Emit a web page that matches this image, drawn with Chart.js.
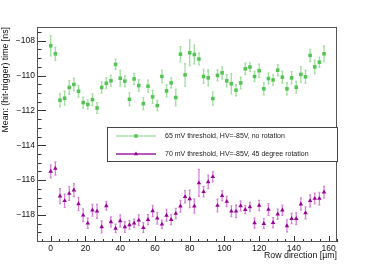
<!DOCTYPE html>
<html>
<head>
<meta charset="utf-8">
<script src="https://cdn.jsdelivr.net/npm/chart.js@4.4.1/dist/chart.umd.min.js"></script>
<style>
  html, body { margin: 0; padding: 0; background: #fff; }
</style>
</head>
<body>
<canvas id="chart" width="374" height="269"></canvas>
<script>
// row position of each bin [um]
const rowPos = [0, 2.67, 5.33, 8, 10.67, 13.33, 16, 18.67, 21.33, 24,
  26.67, 29.33, 32, 34.67, 37.33, 40, 42.67, 45.33, 48, 50.67,
  53.33, 56, 58.67, 61.33, 64, 66.67, 69.33, 72, 74.67, 77.33,
  80, 82.67, 85.33, 88, 90.67, 93.33, 96, 98.67, 101.33, 104,
  106.67, 109.33, 112, 114.67, 117.33, 120, 122.67, 125.33, 128, 130.67,
  133.33, 136, 138.67, 141.33, 144, 146.67, 149.33, 152, 154.67, 157.33];

// 65 mV, no rotation
const noRotMean = [-108.29, -108.75, -111.41, -111.30, -110.68, -110.51, -110.90, -111.55, -111.66, -111.38,
  -111.86, -110.68, -110.44, -110.30, -109.36, -110.15, -110.32, -111.36, -110.19, -110.57,
  -111.61, -110.61, -111.22, -111.72, -110.05, -110.88, -110.42, -111.26, -108.77, -109.96,
  -108.69, -108.79, -109.05, -110.05, -110.13, -111.32, -109.99, -109.84, -110.30, -110.47,
  -110.84, -110.42, -109.61, -109.51, -110.05, -109.72, -110.76, -110.17, -110.25, -109.69,
  -110.09, -110.76, -110.13, -110.67, -109.93, -110.07, -108.84, -109.50, -109.23, -108.75];
const noRotErr = [0.58, 0.37, 0.37, 0.40, 0.39, 0.36, 0.34, 0.31, 0.27, 0.34,
  0.31, 0.32, 0.31, 0.31, 0.29, 0.46, 0.31, 0.38, 0.31, 0.34,
  0.34, 0.35, 0.38, 0.29, 0.35, 0.34, 0.29, 0.48, 0.43, 0.64,
  0.74, 0.54, 0.34, 0.40, 0.45, 0.38, 0.31, 0.34, 0.35, 0.58,
  0.32, 0.34, 0.33, 0.24, 0.29, 0.38, 0.34, 0.32, 0.29, 0.32,
  0.34, 0.35, 0.35, 0.34, 0.45, 0.38, 0.35, 0.38, 0.29, 0.45];

// 70 mV, 45 degree rotation
const rotMean = [-115.50, -115.33, -116.92, -117.19, -116.77, -116.58, -117.37, -118.02, -118.48, -117.73,
  -117.79, -118.69, -117.48, -118.40, -118.77, -118.34, -118.69, -118.57, -118.48, -118.31,
  -118.73, -118.27, -117.77, -118.19, -118.54, -118.03, -118.27, -117.92, -117.50, -116.96,
  -117.08, -117.50, -116.17, -116.67, -116.10, -115.81, -117.46, -116.90, -117.23, -117.79,
  -117.79, -117.48, -117.70, -117.54, -118.46, -117.46, -118.50, -117.69, -118.44, -117.96,
  -117.73, -118.63, -118.21, -118.21, -117.38, -117.88, -117.19, -117.06, -117.06, -116.69];
const rotErr = [0.37, 0.38, 0.43, 0.38, 0.40, 0.37, 0.38, 0.36, 0.29, 0.34,
  0.40, 0.34, 0.24, 0.29, 0.24, 0.34, 0.31, 0.24, 0.24, 0.31,
  0.29, 0.29, 0.32, 0.34, 0.24, 0.34, 0.29, 0.29, 0.34, 0.35,
  0.50, 0.40, 0.77, 0.29, 0.38, 0.29, 0.36, 0.29, 0.29, 0.31,
  0.36, 0.29, 0.23, 0.26, 0.29, 0.29, 0.29, 0.34, 0.29, 0.29,
  0.29, 0.34, 0.29, 0.34, 0.35, 0.34, 0.34, 0.31, 0.36, 0.33];

const xTicks = [0, 20, 40, 60, 80, 100, 120, 140, 160];
const yTicks = [-118, -116, -114, -112, -110, -108];
const labels = ['65 mV threshold, HV=-85V, no rotation', '70 mV threshold, HV=-85V, 45 degree rotation'];

const FONT = '"Liberation Sans", Arial, sans-serif';

function points(ys, es) {
    return rowPos.map((x, i) => ({ x: x, y: ys[i], e: es[i] }));
}

// vertical error bars
const errorBars = {
    id: 'errorBars',
    beforeDatasetsDraw(chart) {
        const { ctx, chartArea, scales: { x, y } } = chart;
        ctx.save();
        ctx.beginPath();
        ctx.rect(chartArea.left, chartArea.top, chartArea.width, chartArea.height);
        ctx.clip();
        chart.data.datasets.forEach(ds => {
            ctx.strokeStyle = ds.errColor;
            ctx.lineWidth = 1.3;
            ctx.beginPath();
            ds.data.forEach(p => {
                const px = x.getPixelForValue(p.x);
                const lo = y.getPixelForValue(p.y - p.e);
                const hi = y.getPixelForValue(p.y + p.e);
                ctx.moveTo(px, lo); ctx.lineTo(px, hi);
                ctx.moveTo(px - 1, lo); ctx.lineTo(px + 1, lo);
                ctx.moveTo(px - 1, hi); ctx.lineTo(px + 1, hi);
            });
            ctx.stroke();
        });
        ctx.restore();
    }
};

// ROOT style frame with inner ticks
const frame = {
    id: 'frame',
    afterDraw(chart) {
        const { ctx, chartArea: a, scales: { x, y } } = chart;
        ctx.save();
        ctx.strokeStyle = '#333';
        ctx.lineWidth = 1;
        ctx.beginPath();
        for (let v = -119.5; v <= -107.5; v += 0.5) {
            const py = Math.round(y.getPixelForValue(v)) + 0.5;
            const len = (v % 2 === 0) ? 9 : 4.5;
            ctx.moveTo(a.left, py); ctx.lineTo(a.left + len, py);
        }
        for (let v = -5; v <= 165; v += 5) {
            const px = Math.round(x.getPixelForValue(v)) + 0.5;
            const len = (v % 20 === 0) ? 6 : 3;
            ctx.moveTo(px, a.bottom); ctx.lineTo(px, a.bottom - len);
        }
        ctx.stroke();
        ctx.strokeStyle = '#555';
        ctx.strokeRect(a.left + 0.5, a.top + 0.5, a.width - 1, a.height - 1);
        ctx.restore();
    }
};

// legend box inside the frame
const rootLegend = {
    id: 'rootLegend',
    afterDraw(chart) {
        const { ctx } = chart;
        const box = { l: 107, t: 127, r: 338, b: 162 };
        ctx.save();
        ctx.fillStyle = '#fff';
        ctx.fillRect(box.l, box.t, box.r - box.l, box.b - box.t);
        ctx.strokeStyle = '#444';
        ctx.lineWidth = 1;
        ctx.strokeRect(box.l + 0.5, box.t + 0.5, box.r - box.l - 1, box.b - box.t - 1);
        const rows = [136, 154];
        chart.data.datasets.forEach((ds, i) => {
            const yy = rows[i];
            ctx.strokeStyle = ds.lineColor;
            ctx.lineWidth = 1.3;
            ctx.beginPath(); ctx.moveTo(116, yy); ctx.lineTo(156, yy); ctx.stroke();
            ctx.fillStyle = ds.backgroundColor;
            ctx.strokeStyle = ds.borderColor;
            Chart.helpers.drawPoint(ctx, { pointStyle: ds.pointStyle, radius: ds.pointRadius, borderWidth: 0, rotation: 0 }, 136, yy);
            ctx.fillStyle = '#222';
            ctx.font = '7px ' + FONT;
            ctx.textBaseline = 'middle';
            ctx.textAlign = 'left';
            ctx.fillText(ds.label, 165, yy);
        });
        ctx.restore();
    }
};

const minus = v => (v < 0 ? '\u2212' + Math.abs(v) : String(v));

new Chart(document.getElementById('chart'), {
    type: 'scatter',
    data: {
        datasets: [{
            label: labels[0],
            data: points(noRotMean, noRotErr),
            pointStyle: 'rect',
            pointRadius: 2.5,
            pointHoverRadius: 2.5,
            borderWidth: 0,
            backgroundColor: '#52c452',
            borderColor: '#52c452',
            errColor: 'rgba(120, 210, 120, 0.7)',
            lineColor: '#a9e4a9'
        }, {
            label: labels[1],
            data: points(rotMean, rotErr),
            pointStyle: 'triangle',
            pointRadius: 2.6,
            pointHoverRadius: 2.6,
            borderWidth: 0,
            backgroundColor: '#9a009a',
            borderColor: '#9a009a',
            errColor: 'rgba(200, 90, 200, 0.75)',
            lineColor: '#a020a0'
        }]
    },
    options: {
        responsive: false,
        animation: false,
        events: [],
        layout: { padding: { left: 0, top: 27, right: 37, bottom: 0 } },
        plugins: {
            legend: { display: false },
            tooltip: { enabled: false },
        },
        scales: {
            x: {
                type: 'linear',
                min: -7.9,
                max: 164.8,
                afterFit: s => { s.height = 27; },
                afterBuildTicks: s => { s.ticks = xTicks.map(v => ({ value: v })); },
                grid: { display: false, drawTicks: false },
                border: { display: false },
                ticks: { color: '#111', padding: 2, maxRotation: 0, autoSkip: false, font: { family: FONT, size: 8.5 } },
                title: { display: true, text: 'Row direction [\u00b5m]', align: 'end', color: '#111', padding: { top: 0, bottom: 8 }, font: { family: FONT, size: 8.8 } }
            },
            y: {
                type: 'linear',
                min: -119.555,
                max: -107.21,
                afterFit: s => { s.width = 37; },
                afterBuildTicks: s => { s.ticks = yTicks.map(v => ({ value: v })); },
                grid: { display: false, drawTicks: false },
                border: { display: false },
                ticks: { color: '#111', padding: 2, autoSkip: false, font: { family: FONT, size: 8.5 }, callback: v => minus(v) },
                title: { display: true, text: 'Mean: (hit-trigger) time [ns]', align: 'end', color: '#111', padding: { top: 0, bottom: 0 }, font: { family: FONT, size: 8.8 } }
            }
        }
    },
    plugins: [errorBars, frame, rootLegend]
});
</script>
</body>
</html>
